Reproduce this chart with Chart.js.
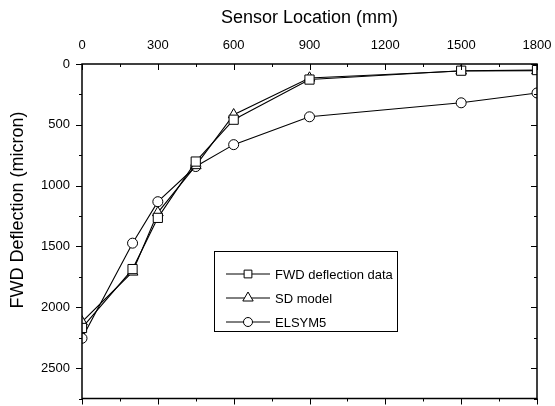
<!DOCTYPE html>
<html>
<head>
<meta charset="utf-8">
<script src="https://cdn.jsdelivr.net/npm/chart.js@4/dist/chart.umd.min.js"></script>
<style>
  html, body { margin: 0; padding: 0; background: #fff; }
  canvas { display: block; }
</style>
</head>
<body>
<canvas id="chart" width="555" height="406"></canvas>
<script>
// Sensor positions (mm) and measured / modelled deflections (micron)
const sensorX = [0, 200, 300, 450, 600, 900, 1500, 1800];
const fwdData = [2170, 1686, 1265, 802, 458, 128, 55, 50];
const sdData = [2120, 1710, 1222, 835, 417, 115, 57, 55];
const elsymData = [2255, 1473, 1132, 843, 663, 434, 319, 238];

const xTicks = [0, 300, 600, 900, 1200, 1500, 1800];
const yTicks = [0, 500, 1000, 1500, 2000, 2500];
const xMinorStep = 150;
const yMinorStep = 250;
const yTitle = 'FWD Deflection (micron)';

const FONT = "'Liberation Sans', Arial, sans-serif";

const pts = arr => sensorX.map((x, i) => ({ x: x, y: arr[i] }));

// small marker painter, used for the legend
function marker(ctx, style, cx, cy, r) {
    ctx.beginPath();
    if (style === 'rect') {
        const s = r * Math.SQRT1_2;
        ctx.rect(cx - s, cy - s, 2 * s, 2 * s);
    } else if (style === 'triangle') {
        ctx.moveTo(cx, cy - r);
        ctx.lineTo(cx + r * Math.sin(2 * Math.PI / 3), cy - r * Math.cos(2 * Math.PI / 3));
        ctx.lineTo(cx + r * Math.sin(4 * Math.PI / 3), cy - r * Math.cos(4 * Math.PI / 3));
        ctx.closePath();
    } else {
        ctx.arc(cx, cy, r, 0, Math.PI * 2);
    }
    ctx.fill();
    ctx.stroke();
}

// box + mirrored tick marks (Origin style), plus the rotated y title
const frameTicks = {
    id: 'frameTicks',
    afterDraw(chart) {
        const { ctx, chartArea: a, scales: { x, y } } = chart;
        ctx.save();
        ctx.strokeStyle = '#000';
        ctx.lineWidth = 1.5;
        ctx.strokeRect(a.left, a.top, a.right - a.left, a.bottom - a.top);
        ctx.lineWidth = 1;
        ctx.beginPath();
        for (let v = 0; v <= x.max; v += xMinorStep) {
            const px = Math.round(x.getPixelForValue(v)) + 0.5;
            const len = xTicks.includes(v) ? 6 : 3;
            ctx.moveTo(px, a.top); ctx.lineTo(px, a.top + len);          // top: inward
            ctx.moveTo(px, a.bottom); ctx.lineTo(px, a.bottom + len);    // bottom: outward
        }
        for (let v = 0; v <= y.max; v += yMinorStep) {
            const py = Math.round(y.getPixelForValue(v)) + 0.5;
            const len = yTicks.includes(v) ? 6 : 3;
            ctx.moveTo(a.left - len, py); ctx.lineTo(a.left, py);        // left: outward
            ctx.moveTo(a.right - len, py); ctx.lineTo(a.right, py);      // right: inward
        }
        ctx.stroke();

        ctx.translate(18, 210);
        ctx.rotate(-Math.PI / 2);
        ctx.fillStyle = '#000';
        ctx.font = '18px ' + FONT;
        ctx.textAlign = 'center';
        ctx.textBaseline = 'middle';
        ctx.fillText(yTitle, 0, 0);
        ctx.restore();
    }
};

// boxed legend with line + marker samples
const boxLegend = {
    id: 'boxLegend',
    afterDraw(chart) {
        const ctx = chart.ctx;
        const bx = 214.5, by = 251.5, bw = 183, bh = 80;
        ctx.save();
        ctx.fillStyle = '#fff';
        ctx.strokeStyle = '#000';
        ctx.lineWidth = 1;
        ctx.fillRect(bx, by, bw, bh);
        ctx.strokeRect(bx, by, bw, bh);
        ctx.font = '13px ' + FONT;
        ctx.textBaseline = 'middle';
        const legendR = { rect: 5.5, triangle: 6, circle: 4.5 };
        chart.data.datasets.forEach((ds, i) => {
            const cy = 274 + i * 24;
            ctx.beginPath();
            ctx.moveTo(226, cy); ctx.lineTo(270, cy);
            ctx.stroke();
            ctx.fillStyle = '#fff';
            marker(ctx, ds.pointStyle, 248, cy, legendR[ds.pointStyle]);
            ctx.fillStyle = '#000';
            ctx.fillText(ds.label, 275, cy + 1);
        });
        ctx.restore();
    }
};

function series(label, values, style, radius) {
    return {
        label: label,
        data: pts(values),
        borderColor: '#000',
        borderWidth: 1.1,
        pointStyle: style,
        pointRadius: radius,
        pointBackgroundColor: '#fff',
        pointBorderColor: '#000',
        pointBorderWidth: 1,
        tension: 0,
        fill: false,
        clip: 0
    };
}

new Chart(document.getElementById('chart').getContext('2d'), {
    type: 'line',
    data: {
        datasets: [
            series('FWD deflection data', fwdData, 'rect', 6.5),
            series('SD model', sdData, 'triangle', 6.2),
            series('ELSYM5', elsymData, 'circle', 5)
        ]
    },
    options: {
        responsive: false,
        animation: false,
        layout: { padding: { left: 0, top: 0, right: 18, bottom: 6 } },
        plugins: { legend: { display: false }, tooltip: { enabled: false } },
        scales: {
            x: {
                type: 'linear',
                position: 'top',
                min: 0,
                max: 1800,
                afterBuildTicks: s => { s.ticks = xTicks.map(v => ({ value: v })); },
                afterFit: s => { s.height = 64; s.paddingLeft = 0; s.paddingRight = 0; },
                grid: { display: false, drawTicks: false },
                border: { display: false },
                ticks: {
                    color: '#000', font: { family: FONT, size: 13 }, padding: 11, maxRotation: 0,
                    callback: v => String(v)
                },
                title: {
                    display: true,
                    text: 'Sensor Location (mm)',
                    color: '#000',
                    font: { family: FONT, size: 18 },
                    padding: { top: 7, bottom: 0 }
                }
            },
            y: {
                type: 'linear',
                reverse: true,
                min: 0,
                max: 2750,
                afterBuildTicks: s => { s.ticks = yTicks.map(v => ({ value: v })); },
                afterFit: s => { s.width = 82; s.paddingTop = 0; s.paddingBottom = 0; },
                grid: { display: false, drawTicks: false },
                border: { display: false },
                ticks: {
                    color: '#000', font: { family: FONT, size: 13 }, padding: 12,
                    callback: v => String(v)
                },
                title: { display: false }
            }
        }
    },
    plugins: [frameTicks, boxLegend]
});
</script>
</body>
</html>
